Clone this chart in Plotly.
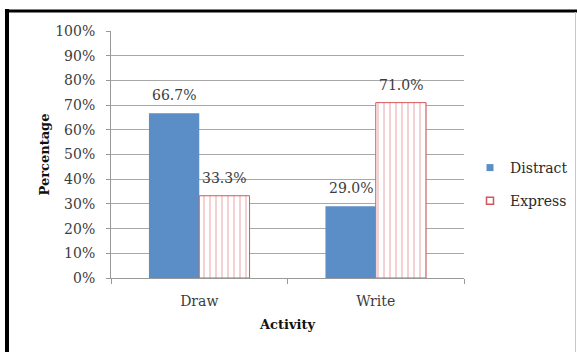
import plotly.graph_objects as go

# Share of each activity by response type
activities = ["Draw", "Write"]
distract = [66.7, 29.0]
express = [33.3, 71.0]
y_ticks = [0, 10, 20, 30, 40, 50, 60, 70, 80, 90, 100]
y_tick_text = [f"{v}%" for v in y_ticks]

W, H = 577, 352
L, R, T, B = 111, 113, 31, 74
BARGAP = 0.43
serif = "DejaVu Serif"
text_col = "#3c3c3c"
grid_col = "#a8a8a8"
blue = "#5b8dc7"
red = "#d0585c"

fig = go.Figure()
fig.add_trace(go.Bar(
    name="Distract", x=activities, y=distract,
    marker=dict(color=blue, line=dict(width=0)),
    showlegend=False,
))
fig.add_trace(go.Bar(
    name="Express", x=activities, y=express,
    marker=dict(
        color="white",
        line=dict(color=red, width=1),
        pattern=dict(shape="|", fgcolor="#d9686c", bgcolor="white",
                     size=6, solidity=0.2, fillmode="overlay"),
    ),
    showlegend=False,
))

# small square legend keys
fig.add_trace(go.Scatter(
    name="Distract", x=[None], y=[None], mode="markers",
    marker=dict(symbol="square", size=7, color=blue),
    legendgroup="a", showlegend=True,
))
fig.add_trace(go.Scatter(
    name="Express", x=[None], y=[None], mode="markers",
    marker=dict(symbol="square", size=7, color="white",
                line=dict(color=red, width=1.5)),
    legendgroup="b", showlegend=True,
))

# value labels above each bar
half = (1 - BARGAP) / 4
for i, v in enumerate(distract):
    fig.add_annotation(x=i - half, y=v, text=f"{v:.1f}%", showarrow=False,
                       yanchor="bottom", yshift=8,
                       font=dict(family=serif, size=14, color=text_col))
for i, v in enumerate(express):
    fig.add_annotation(x=i + half, y=v, text=f"{v:.1f}%", showarrow=False,
                       yanchor="bottom", yshift=8,
                       font=dict(family=serif, size=14, color=text_col))

# outer frame
px = lambda p: (p - L) / (W - L - R)
py = lambda p: 1 - (p - T) / (H - T - B)
fig.add_shape(type="line", xref="paper", yref="paper",
              x0=px(7), x1=px(7), y0=py(9), y1=py(360),
              line=dict(color="black", width=4))
fig.add_shape(type="line", xref="paper", yref="paper",
              x0=px(5), x1=px(577), y0=py(11), y1=py(11),
              line=dict(color="black", width=3))
fig.add_shape(type="line", xref="paper", yref="paper",
              x0=px(575.5), x1=px(575.5), y0=py(12), y1=py(360),
              line=dict(color="#c8c8c8", width=1))

fig.update_layout(
    width=W, height=H,
    margin=dict(l=L, r=R, t=T, b=B, pad=0, autoexpand=False),
    paper_bgcolor="white", plot_bgcolor="white",
    barmode="group", bargap=BARGAP, bargroupgap=0,
    font=dict(family=serif, size=14, color=text_col),
    showlegend=True,
    legend=dict(x=px(470), y=py(152), xanchor="left", yanchor="top",
                traceorder="grouped", tracegroupgap=12,
                font=dict(family=serif, size=14, color="#2a2a2a"),
                bgcolor="rgba(0,0,0,0)"),
    xaxis=dict(
        type="category", showline=True, linecolor="#999999", linewidth=1,
        ticks="outside", ticklen=5, tickcolor="#999999", tickson="boundaries",
        showgrid=False, automargin=False, range=[-0.5, 1.5],
        tickfont=dict(family=serif, size=14, color=text_col),
        ticklabelstandoff=10,
        title=dict(text="<b>Activity</b>", standoff=12,
                   font=dict(family=serif, size=13, color="#111111")),
    ),
    yaxis=dict(
        range=[0, 100], tickmode="array", tickvals=y_ticks, ticktext=y_tick_text,
        showline=True, linecolor="#999999", linewidth=1,
        ticks="outside", ticklen=4, tickcolor="#999999",
        showgrid=True, gridcolor=grid_col, gridwidth=1,
        zeroline=False, automargin=False,
        tickfont=dict(family=serif, size=14, color=text_col),
        ticklabelstandoff=8,
        title=dict(text="<b>Percentage</b>", standoff=2,
                   font=dict(family=serif, size=13, color="#111111")),
    ),
)

fig.write_html("out.html")
